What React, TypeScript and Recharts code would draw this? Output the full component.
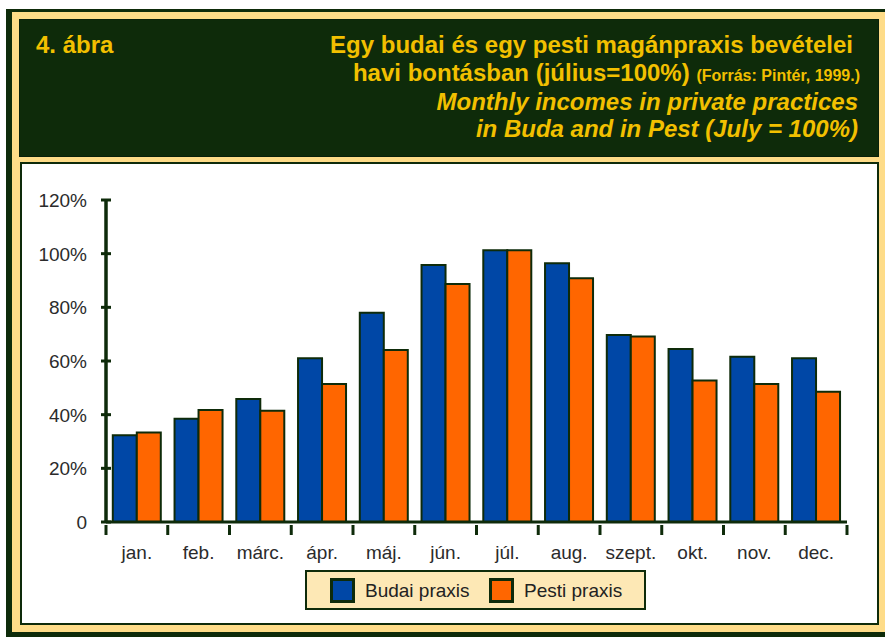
import { BarChart, Bar, XAxis, YAxis } from 'recharts';

const months = ['jan.', 'feb.', 'márc.', 'ápr.', 'máj.', 'jún.', 'júl.', 'aug.', 'szept.', 'okt.', 'nov.', 'dec.'];
const budai = [32.3, 38.5, 45.8, 61.0, 78.0, 95.8, 101.3, 96.4, 69.7, 64.5, 61.6, 61.0];
const pesti = [33.4, 41.7, 41.5, 51.4, 64.1, 88.7, 101.3, 90.8, 69.1, 52.7, 51.4, 48.5];
const yTicks = [0, 20, 40, 60, 80, 100, 120];

const data = months.map((m, i) => ({ month: m, budai: budai[i], pesti: pesti[i] }));

const DARK = '#0e2b0a';
const GOLD = '#f2c000';
const BAND = '#fedc88';
const BLUE = '#0047a6';
const ORANGE = '#ff6600';
const FONT = "'Liberation Sans', Arial, Helvetica, sans-serif";

const CHART_W = 885;
const CHART_H = 637;
const M = { top: 200, right: 38, bottom: 85, left: 46 };
const Y_W = 60;
const PLOT_W = CHART_W - M.left - M.right - Y_W;
const BAND_W = PLOT_W / months.length;

function YTick({ x, y, payload }: { x: number; y: number; payload: { value: number } }) {
  const ax = x + 21;
  return (
    <g>
      <line x1={ax - 5} x2={ax + 5} y1={y} y2={y} stroke={DARK} strokeWidth={3} />
      <text x={x + 2} y={y + 7} textAnchor="end" fill="#2b2b2b" fontSize={19} fontFamily={FONT}>
        {payload.value === 0 ? '0' : `${payload.value}%`}
      </text>
    </g>
  );
}

function XTick({ x, y, payload, index }: { x: number; y: number; payload: { value: string }; index: number }) {
  const left = x - BAND_W / 2;
  return (
    <g>
      <line x1={left} x2={left} y1={y - 5} y2={y + 5} stroke={DARK} strokeWidth={3} />
      {index === months.length - 1 && (
        <line x1={left + BAND_W} x2={left + BAND_W} y1={y - 5} y2={y + 5} stroke={DARK} strokeWidth={3} />
      )}
      <text x={x} y={y + 29} textAnchor="middle" fill="#2b2b2b" fontSize={19} fontFamily={FONT}>
        {payload.value}
      </text>
    </g>
  );
}

function LegendBox() {
  const sq = (color: string, left: number) => (
    <div style={{ position: 'absolute', left, top: 6, width: 25, height: 25, boxSizing: 'border-box', background: color, border: `3px solid ${DARK}` }} />
  );
  const label = (text: string, left: number) => (
    <div style={{ position: 'absolute', left, top: 6, lineHeight: '25px', fontSize: 19, color: '#222', fontFamily: FONT, whiteSpace: 'nowrap' }}>{text}</div>
  );
  return (
    <div style={{
      position: 'absolute', left: 305, top: 570, width: 341, height: 40, boxSizing: 'border-box',
      background: '#fde8b5', border: `2px solid ${DARK}`,
    }}>
      {sq(BLUE, 23)}
      {label('Budai praxis', 58)}
      {sq(ORANGE, 182)}
      {label('Pesti praxis', 217)}
    </div>
  );
}

function Header() {
  const common = { fill: GOLD, fontFamily: FONT, fontWeight: 700, fontSize: 24 };
  return (
    <svg width={CHART_W} height={160} style={{ position: 'absolute', left: 0, top: 0 }}>
      <text x={36} y={53} {...common}>4. ábra</text>
      <text x={853} y={53} textAnchor="end" {...common}>Egy budai és egy pesti magánpraxis bevételei</text>
      <text x={860} y={81} textAnchor="end" {...common}>
        havi bontásban (július=100%) <tspan fontSize={16}>(Forrás: Pintér, 1999.)</tspan>
      </text>
      <text x={858} y={110} textAnchor="end" {...common} fontStyle="italic">Monthly incomes in private practices</text>
      <text x={858} y={137} textAnchor="end" {...common} fontStyle="italic">in Buda and in Pest (July = 100%)</text>
    </svg>
  );
}

export default function App() {
  return (
    <div style={{ position: 'absolute', left: 0, top: 0, width: CHART_W, height: CHART_H, overflow: 'hidden', background: '#fff' }}>
      <div style={{ position: 'absolute', left: 6, top: 9, width: 900, height: 640, background: DARK }} />
      <div style={{ position: 'absolute', left: 12, top: 12, width: 900, height: 620, background: BAND }} />
      <div style={{ position: 'absolute', left: 19, top: 19, width: 860, height: 138, background: DARK, boxSizing: 'border-box', border: '1px solid #08200a' }} />
      <Header />
      <div style={{ position: 'absolute', left: 20, top: 162, width: 859, height: 463, background: '#fff', boxSizing: 'border-box', border: `2px solid ${DARK}` }} />
      <div style={{ position: 'absolute', left: 0, top: 0 }}>
        <BarChart width={CHART_W} height={CHART_H} data={data} margin={M} barCategoryGap="11%" barGap={0}>
          <XAxis dataKey="month" axisLine={{ stroke: DARK, strokeWidth: 3 }} tickLine={false} tick={XTick} interval={0} height={30} />
          <YAxis
            domain={[0, 120]}
            ticks={yTicks}
            width={Y_W}
            axisLine={{ stroke: DARK, strokeWidth: 3.5 }}
            tickLine={false}
            tickSize={0}
            tickMargin={21}
            tick={YTick}
          />
          <Bar dataKey="budai" name="Budai praxis" fill={BLUE} stroke={DARK} strokeWidth={2} isAnimationActive={false} />
          <Bar dataKey="pesti" name="Pesti praxis" fill={ORANGE} stroke={DARK} strokeWidth={2} isAnimationActive={false} />
        </BarChart>
      </div>
      <LegendBox />
    </div>
  );
}
